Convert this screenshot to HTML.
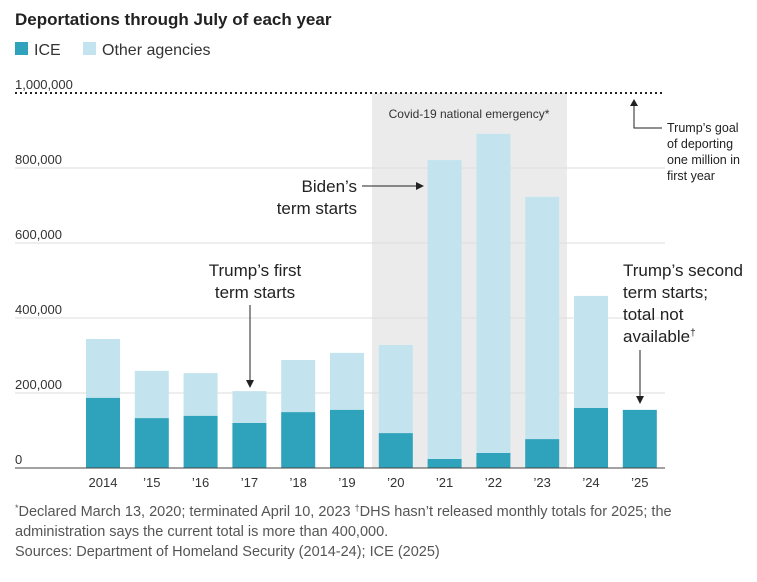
<!DOCTYPE html>
<html><head><meta charset="utf-8">
<style>
body{margin:0;background:#fff;width:757px;height:577px;overflow:hidden;font-family:"Liberation Sans",sans-serif;}
svg text{font-family:"Liberation Sans",sans-serif;}
</style></head>
<body>
<svg id="chart" width="757" height="577" viewBox="0 0 757 577">
<text x="15" y="25" font-size="17" font-weight="bold" fill="#222">Deportations through July of each year</text>
<g>
<rect x="15" y="42" width="13" height="13" fill="#2fa3bb"/>
<text x="34" y="55" font-size="16" fill="#333">ICE</text>
<rect x="83" y="42" width="13" height="13" fill="#c3e4ee"/>
<text x="102" y="55" font-size="16" fill="#333">Other agencies</text>
</g>
<rect x="372" y="93" width="195" height="375" fill="#ebebeb"/>
<text x="469" y="118" font-size="12" fill="#333" text-anchor="middle">Covid-19 national emergency*</text>
<g id="grid"></g>
<g id="bars"></g>
<g id="xlabels"></g>
<line x1="15" y1="93" x2="665" y2="93" stroke="#222" stroke-width="2" stroke-dasharray="2,3"/>
<line x1="15" y1="468" x2="665" y2="468" stroke="#444" stroke-width="1"/>
<g font-size="12.5" fill="#222">
<polyline points="634,100 634,128 662,128" fill="none" stroke="#222"/>
<polygon points="630,106 638,106 634,99" fill="#222"/>
<text x="667" y="132">Trump’s goal</text><text x="667" y="148">of deporting</text>
<text x="667" y="164">one million in</text><text x="667" y="180">first year</text>
</g>
<g font-size="17" fill="#222">
<text x="357" y="192" text-anchor="end">Biden’s</text><text x="357" y="214" text-anchor="end">term starts</text>
<line x1="362" y1="186" x2="418" y2="186" stroke="#222"/><polygon points="424,186 416,182 416,190" fill="#222"/>
</g>
<g font-size="17" fill="#222">
<text x="255" y="276" text-anchor="middle">Trump’s first</text><text x="255" y="298" text-anchor="middle">term starts</text>
<line x1="250" y1="305" x2="250" y2="382" stroke="#222"/><polygon points="250,388 246,380 254,380" fill="#222"/>
</g>
<g font-size="17" fill="#222">
<text x="623" y="276">Trump’s second</text><text x="623" y="298">term starts;</text>
<text x="623" y="320">total not</text><text x="623" y="342">available<tspan font-size="10" dy="-6">†</tspan></text>
<line x1="640" y1="350" x2="640" y2="398" stroke="#222"/><polygon points="640,404 636,396 644,396" fill="#222"/>
</g>
<g font-size="14.5" fill="#555">
<text x="15" y="516"><tspan font-size="9" dy="-5">*</tspan><tspan dy="5">Declared March 13, 2020; terminated April 10, 2023  </tspan><tspan font-size="9" dy="-5">†</tspan><tspan dy="5">DHS hasn’t released monthly totals for 2025; the</tspan></text>
<text x="15" y="536">administration says the current total is more than 400,000.</text>
<text x="15" y="556">Sources: Department of Homeland Security (2014-24); ICE (2025)</text>
</g>
</svg>
<script>
const years=["2014","’15","’16","’17","’18","’19","’20","’21","’22","’23","’24","’25"];
const iceValues=[187000,133000,139000,120000,149000,155000,93000,24000,40000,77000,160000,155000];
const totalValues=[344000,259000,253000,205000,288000,307000,328000,821000,891000,723000,459000,null];
const yTicks=[0,200000,400000,600000,800000,1000000];
const yTickLabels=["0","200,000","400,000","600,000","800,000","1,000,000"];
const NS="http://www.w3.org/2000/svg";
function y(v){return 468-v*0.000375;}
function x(i){return 103+i*48.8;}
const bw=34;
const grid=document.getElementById('grid'),bars=document.getElementById('bars'),xl=document.getElementById('xlabels');
function mk(tag,at,parent){const e=document.createElementNS(NS,tag);for(const k in at)e.setAttribute(k,at[k]);parent.appendChild(e);return e;}
yTicks.forEach((t,i)=>{
 if(i>0&&i<yTicks.length-1){const l=mk('line',{x1:15,x2:665,y1:y(t),y2:y(t),stroke:'#ddd'},grid);
 
 }
 const tx=mk('text',{x:15,y:y(t)-4,'font-size':13,fill:'#333'},grid);tx.textContent=yTickLabels[i];
 
 
});
years.forEach((yr,i)=>{
 if(totalValues[i]!=null){const r=mk('rect',{x:x(i)-bw/2,y:y(totalValues[i]),width:bw,height:y(iceValues[i])-y(totalValues[i]),fill:'#c3e4ee'},bars);
 
 }
 const r2=mk('rect',{x:x(i)-bw/2,y:y(iceValues[i]),width:bw,height:468-y(iceValues[i]),fill:'#2fa3bb'},bars);
 
 
 const t=mk('text',{x:x(i),y:487,'font-size':13,fill:'#333','text-anchor':'middle'},xl);t.textContent=yr;
 
 
});
</script>
</body></html>
